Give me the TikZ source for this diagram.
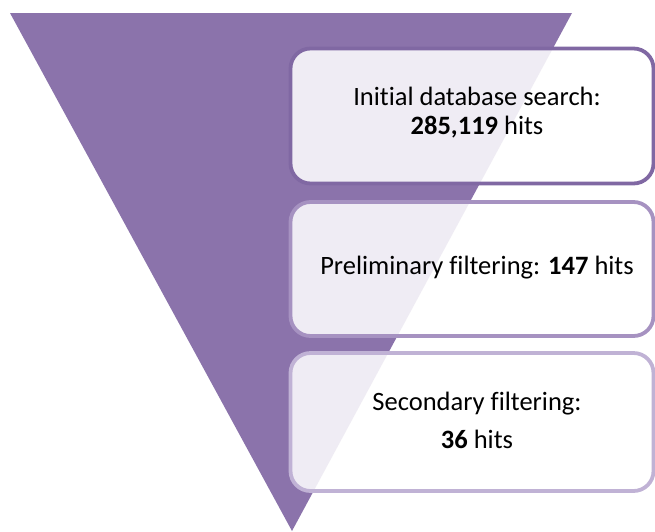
\documentclass[tikz,border=0pt]{standalone}
\usepackage{fontspec}
\setmainfont[Ligatures=NoCommon]{Carlito}
\definecolor{funnel}{RGB}{139,115,171}
\definecolor{edgeA}{RGB}{128,104,163}
\definecolor{edgeB}{RGB}{166,146,193}
\definecolor{edgeC}{RGB}{192,178,213}
\tikzset{
  stage/.style={draw, line width=3.8pt, rounded corners=20pt, fill=white, fill opacity=0.87, draw opacity=1,
    minimum width=363pt, text opacity=1, inner sep=0pt},
  label/.style={font=\fontsize{26.5}{29}\selectfont, align=center, text=black}
}
\begin{document}
\begin{tikzpicture}[x=1pt,y=-1pt]
\useasboundingbox (0,0) rectangle (655,531);
% funnel
\fill[funnel] (10,13) -- (572,13) -- (292,531) -- cycle;
% stages
\node[stage, draw=edgeA, minimum height=135pt] (s1) at (472,116) {};
\node[stage, draw=edgeB, minimum height=134pt] (s2) at (472,269) {};
\node[stage, draw=edgeC, minimum height=138pt] (s3) at (472,422) {};
\node[label] (t1) at (477,113) {Initial database search:\\\textbf{285,119} hits};
\node[label] (t2) at (477,268) {Preliminary filtering: \textbf{147} hits};
\node[label, font=\fontsize{26.5}{38}\selectfont] (t3) at (477,420) {Secondary filtering:\\\textbf{36} hits};
\end{tikzpicture}
\end{document}
